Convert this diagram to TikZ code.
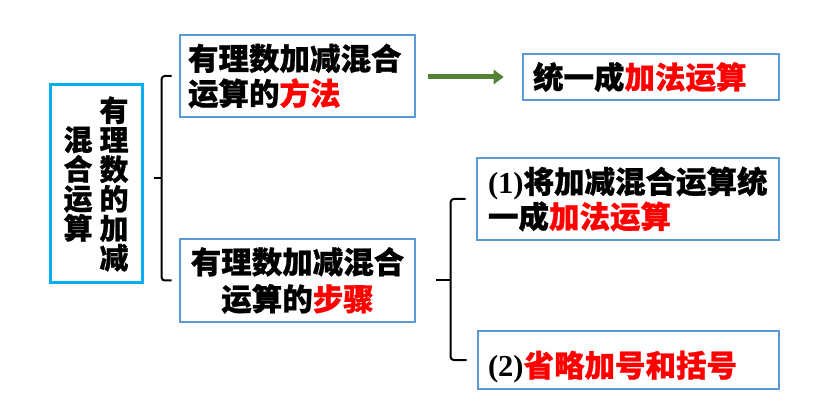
\documentclass[tikz,border=0pt]{standalone}
\usepackage{fontspec}
\newfontfamily\cjk{Noto Sans CJK SC}[BoldFeatures={FakeBold=0.8}]
\newfontfamily\serb{Liberation Serif}
\usetikzlibrary{arrows.meta}
\definecolor{boxblue}{RGB}{91,155,213}
\definecolor{rootcyan}{RGB}{0,176,240}
\definecolor{arrgreen}{RGB}{84,130,53}
\definecolor{hired}{RGB}{255,0,0}
\newcommand{\hl}[1]{\textcolor{hired}{#1}}
\newcommand{\vcol}[1]{\parbox[c]{30pt}{\centering\lineskiplimit=-100pt\baselineskip=29.5pt #1}}
\begin{document}
\begin{tikzpicture}[x=1pt,y=-1pt,
  box/.style={draw=boxblue, line width=2.6pt, inner sep=0pt},
  txt/.style={font=\cjk\bfseries\fontsize{30.5}{35}\selectfont},
  brc/.style={draw=black, line width=2pt, rounded corners=3pt},
  garr/.style={draw=arrgreen, line width=5pt, -{Triangle[length=10pt,width=14pt]}}
]
\useasboundingbox (0,0) rectangle (825,414);

% root
\node[draw=rootcyan, line width=3pt, inner sep=0pt, minimum width=92pt, minimum height=198pt,
      font=\cjk\bfseries\fontsize{29}{29.5}\selectfont] (root) at (96,184)
  {\vcol{混\\合\\运\\算}\hspace{6pt}\vcol{有\\理\\数\\的\\加\\减}};

% middle boxes
\node[box, txt, minimum width=235pt, minimum height=82pt, text width=219pt, align=left] (m1) at (297.5,76)
  {有理数加减混合\\运算的\hl{方法}};
\node[box, txt, font=\cjk\bfseries\fontsize{30.5}{37}\selectfont, minimum width=235pt, minimum height=83pt, text width=219pt, align=center] (m2) at (297.5,280.5)
  {有理数加减混合\\运算的\hl{步骤}};

% right boxes
\node[box, txt, minimum width=256pt, minimum height=46pt, text width=236pt, align=left] (m3) at (651,77)
  {统一成\hl{加法运算}};
\node[box, txt, minimum width=302pt, minimum height=82pt, text width=280pt, align=left] (m4) at (628,199)
  {{\serb\bfseries (1)}将加减混合运算统\\一成\hl{加法运算}};
\node[box, txt, minimum width=301pt, minimum height=58pt, text width=281pt, align=left] (m5) at (628.5,360)
  {\raisebox{-7pt}[\height][\depth]{{\serb\bfseries (2)}\hl{省略加号和括号}}};

% left brace
\coordinate (lb) at ([xshift=10pt,yshift=6pt]root.east);
\coordinate (lbx) at ([xshift=-17pt]m1.west);
\draw[brc] ([xshift=-7pt]m1.west) -- (lbx) -- ([xshift=-17pt]m2.west) -- ([xshift=-7pt]m2.west);
\draw[brc] (lb) -- (lb -| lbx);

% right brace
\coordinate (rb) at ([xshift=20pt]m2.east);
\coordinate (rbx) at ([xshift=-25pt]m4.west);
\draw[brc] ([xshift=-10pt]m4.west) -- (rbx) -- (rbx |- m5.west) -- ([xshift=-10pt]m5.west);
\draw[brc] (rb) -- (rb -| rbx);

% arrow
\coordinate (a0) at ([xshift=12pt]m1.east);
\draw[garr] (a0 |- m3.west) -- ([xshift=-18pt]m3.west);
\end{tikzpicture}
\end{document}
